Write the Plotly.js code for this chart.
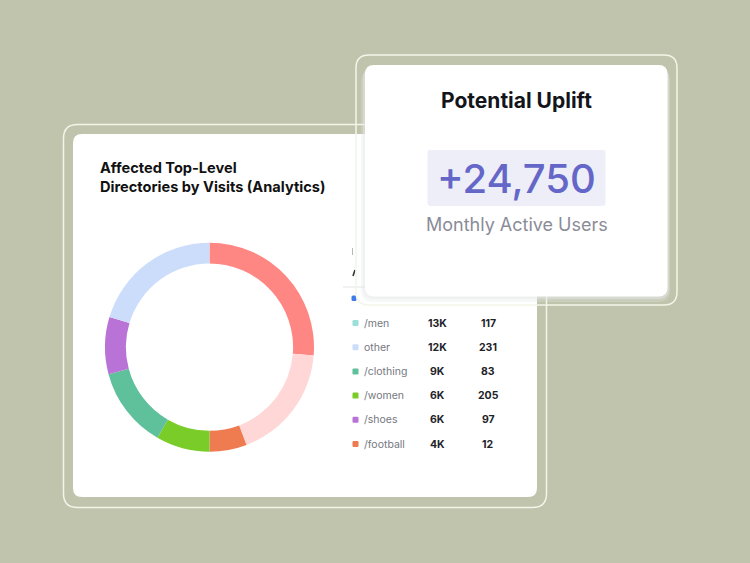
<!DOCTYPE html>
<html>
<head>
<meta charset="utf-8">
<script src="https://cdn.plot.ly/plotly-3.0.1.min.js"></script>
<style>html,body{margin:0;padding:0;background:#C1C4AC;}#chart{width:750px;height:563px;}</style>
</head>
<body>
<div id="chart"></div>
<script>
// Donut slices (clockwise from 12 o'clock), visits in thousands as read from the ring
const sliceLabels = ["/unlisted-a", "/unlisted-b", "/football", "/women", "/clothing", "/shoes", "other"];
const sliceValues = [15.5, 10.6, 3.4, 4.9, 7.4, 5.2, 12.0];
const sliceColors = ["#FF8783", "#FFD7D7", "#EE7C50", "#7ACC29", "#5FC09C", "#B972D6", "#CCDDFC"];

// Table rows
const rowLabels = ["/men", "other", "/clothing", "/women", "/shoes", "/football"];
const rowVisits = ["13K", "12K", "9K", "6K", "6K", "4K"];
const rowCounts = ["117", "231", "83", "205", "97", "12"];
const rowColors = ["#9BDFD8", "#CCDDFC", "#5FC09C", "#7ACC29", "#B972D6", "#EE7C50"];

// KPI card
const kpiTitle = "Potential Uplift";
const kpiValue = "+24,750";
const kpiUnit = "Monthly Active Users";
const chartTitle = "Affected Top-Level<br>Directories by Visits (Analytics)";

const W = 750, H = 563;
const FONT = "Inter, 'Noto Sans', sans-serif";
function rr(x0, y0, x1, y1, r) {
  return `M${x0+r},${y0} L${x1-r},${y0} Q${x1},${y0} ${x1},${y0+r} L${x1},${y1-r} Q${x1},${y1} ${x1-r},${y1} L${x0+r},${y1} Q${x0},${y1} ${x0},${y1-r} L${x0},${y0+r} Q${x0},${y0} ${x0+r},${y0} Z`;
}
function shp(path, fill, line, lw, opacity) {
  return {type: "path", xref: "x", yref: "y", layer: "below", path: path,
    fillcolor: fill || "rgba(0,0,0,0)", opacity: opacity == null ? 1 : opacity,
    line: {color: line || "rgba(0,0,0,0)", width: lw || 0}};
}

const shapes = [];
// left card frame + card
shapes.push(shp(rr(63.5, 124.5, 546.5, 507.5, 14), null, "#F3F5E8", 1.5));
shapes.push(shp(rr(73, 134, 537, 497, 9), "#FFFFFF"));
// partially hidden table header bits
shapes.push(shp("M352.5,248 L352.5,255", null, "#B8B8B8", 1));
shapes.push(shp("M353,276 L355,270", null, "#333333", 1.6));
shapes.push(shp("M343,287 L366,287", null, "#E4E4E6", 1));
shapes.push(shp(rr(351.5, 295.5, 356.5, 301, 1.5), "#3F7BE8"));
// table markers
rowLabels.forEach((l, i) => {
  const yc = 323 + i * 24.2;
  shapes.push(shp(rr(352.5, yc - 3, 358.5, yc + 3, 1.2), rowColors[i]));
});
// right card frame
shapes.push(shp(rr(356, 55, 677, 305, 13), null, "#F3F5E8", 1.5));
// soft shadow / glow
shapes.push(shp(rr(361, 70, 670, 302, 12), "#E2E3E4", null, 0, 0.3));
shapes.push(shp(rr(363, 67, 669, 299, 11), "#E8E9EA", null, 0, 0.45));
// right card
shapes.push(shp(rr(365, 65, 667.5, 296.5, 9), "#FFFFFF"));
// kpi highlight box
shapes.push(shp(rr(427.5, 150, 605.5, 206, 3), "#EEEEF9"));

const ann = [];
ann.push({x: 97.5, y: 177, xref: "x", yref: "y", text: "<b>" + chartTitle + "</b>", showarrow: false,
  xanchor: "left", yanchor: "middle", align: "left",
  font: {family: FONT, size: 14.6, color: "#111111"}});
ann.push({x: 516.5, y: 100, xref: "x", yref: "y", text: "<b>" + kpiTitle + "</b>", showarrow: false,
  xanchor: "center", yanchor: "middle",
  font: {family: FONT, size: 21, color: "#14151A"}});
ann.push({x: 516.5, y: 178.5, xref: "x", yref: "y", text: kpiValue, showarrow: false,
  xanchor: "center", yanchor: "middle",
  font: {family: FONT, size: 40, weight: 500, color: "#6466C8"}});
ann.push({x: 516.5, y: 224, xref: "x", yref: "y", text: kpiUnit, showarrow: false,
  xanchor: "center", yanchor: "middle",
  font: {family: FONT, size: 18, color: "#8A8C98"}});
rowLabels.forEach((l, i) => {
  const yc = 323 + i * 24.2;
  ann.push({x: 362, y: yc, xref: "x", yref: "y", text: l, showarrow: false, xanchor: "left", yanchor: "middle",
    font: {family: FONT, size: 10.5, color: "#75777F"}});
  ann.push({x: 437, y: yc, xref: "x", yref: "y", text: "<b>" + rowVisits[i] + "</b>", showarrow: false, xanchor: "center", yanchor: "middle",
    font: {family: FONT, size: 10.5, color: "#222328"}});
  ann.push({x: 488, y: yc, xref: "x", yref: "y", text: "<b>" + rowCounts[i] + "</b>", showarrow: false, xanchor: "center", yanchor: "middle",
    font: {family: FONT, size: 10.5, color: "#222328"}});
});

const data = [{
  type: "pie",
  labels: sliceLabels,
  values: sliceValues,
  sort: false,
  direction: "clockwise",
  rotation: 0,
  hole: 0.8,
  textinfo: "none",
  hoverinfo: "label+value",
  marker: {colors: sliceColors, line: {width: 0}},
  domain: {x: [105 / W, 314 / W], y: [1 - 451.7 / H, 1 - 242.7 / H]},
  showlegend: false
}];

const layout = {
  width: W, height: H,
  margin: {l: 0, r: 0, t: 0, b: 0},
  paper_bgcolor: "#C1C4AC",
  plot_bgcolor: "rgba(0,0,0,0)",
  xaxis: {range: [0, W], visible: false, fixedrange: true, domain: [0, 1]},
  yaxis: {range: [H, 0], visible: false, fixedrange: true, domain: [0, 1]},
  shapes: shapes,
  annotations: ann,
  showlegend: false
};

Plotly.newPlot("chart", data, layout, {displayModeBar: false, staticPlot: true});
</script>
</body>
</html>
